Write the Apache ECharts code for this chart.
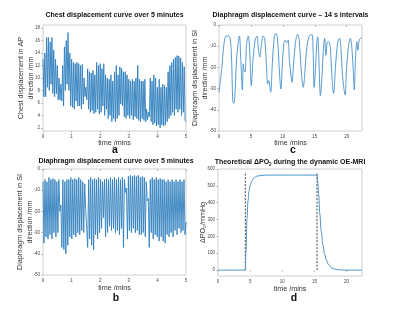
<!DOCTYPE html>
<html><head><meta charset="utf-8">
<script src="https://cdn.jsdelivr.net/npm/echarts@6/dist/echarts.min.js"></script>
<style>html,body{margin:0;padding:0;background:#fff}#c{width:400px;height:314px}</style>
</head><body><div id="c"></div>
<script>
// ---- data ----
// (a) chest displacement, alternating peak/trough per breath, 5 minutes
const chestDisp = [13,7, 14,7, 16.5,8.5, 16.5,8, 15.8,9, 16.5,7.5, 14.5,7, 13,7.5, 12,6.5, 10,6.5,
  9,6.3, 12,5.5, 15,8, 16,9, 17.3,8, 14,5.5, 13,5.3, 12.5,5, 12.3,6.3, 12.5,5.5,
  12.3,5.5, 12,5, 12.2,5.8, 10,7, 8.5,6.5, 11.5,5, 11,4.5, 10.8,4.8, 11.2,4.3, 10.5,4.5,
  12.5,5, 12,4.2, 12.3,4.5, 11.5,5.5, 12.3,4, 10.5,5, 10,3.5, 9.8,4, 10.5,3, 9.5,3.5,
  11,3, 12,3.5, 10.5,4, 11.8,5.8, 11.5,5.5, 11,3.8, 11,3.5, 10.5,4, 9.8,3.5, 9.5,4,
  9.8,3.3, 9.5,3.8, 10,3.5, 12,3.2, 9.8,3, 9.5,3.5, 9.5,3.2, 9.8,3, 5,3.3, 4.5,3.8,
  10,3, 9.5,2.5, 10.5,2.8, 10,2.3, 8.5,2.5, 9.8,2.0, 8.5,2.5, 9,2.3, 8.8,2.5, 8.5,3,
  11,3.5, 12,4, 12.5,4.5, 13,4, 13.3,5, 13.6,4.5, 13.5,5, 13.2,4, 12.5,4.5, 11.8,3.2, 3];
// (b) diaphragm displacement, alternating peak/trough per breath, 5 minutes
const diaphDisp = [-6,-35, -5,-32, -6,-33, -4,-31, -5,-33, -4.5,-30, -5,-32, -6,-30, -5,-20, -17,-37,
  -5,-38, -6,-40, -5,-36, -5,-32, -4,-33, -5,-31, -4.5,-32, -5,-30, -4,-31, -5,-29,
  -6,-30, -7,-19, -19,-37, -5,-33, -4,-36, -5,-38, -4.5,-31, -5,-33, -4,-30, -5,-28,
  -6,-23, -5,-32, -4.5,-30, -5,-27, -4,-29, -5,-28, -4,-30, -5,-29, -4,-31, -5,-28,
  -4,-37, -5,-11, -9,-33, -3.5,-29, -3,-30, -3.5,-28, -3,-30, -3.5,-29, -3,-31, -4,-31,
  -3.5,-30, -4,-32, -6,-15, -14,-37, -5,-30, -4,-33, -5,-31, -4,-32, -5,-34, -4.5,-32,
  -5,-34, -5,-35, -6,-31, -5,-32, -6,-30, -5,-32, -6,-29, -5,-31, -6,-28, -5,-30,
  -6,-29, -5,-31, -25];
// (c) diaphragm displacement, 14 s intervals
const cTime = [0,0.46,0.72,1.13,1.49,1.75,1.96,2.16,2.32,2.53,2.78,3.2,3.4,3.66,3.81,3.92,4.07,4.33,4.59,4.85,
  5.05,5.36,5.67,5.93,6.19,6.39,6.6,6.91,7.16,7.42,7.63,7.78,8.09,8.35,8.66,8.92,9.18,9.48,9.69,9.9,
  10.15,10.36,10.62,10.82,11.03,11.34,11.44,11.65,11.96,12.32,12.58,12.84,13.2,13.4,13.71,14.12,14.54,14.74,14.9,15.15,
  15.31,15.46,15.67,15.88,16.13,16.34,16.55,16.75,17.01,17.32,17.53,17.73,17.94,18.25,18.56,18.87,19.12,19.33,19.54,19.74,
  20.0,20.31,20.57,20.82,21.03,21.19,21.39,21.6,21.75,21.96,22.16,22.37];
const cVal = [-31.7,-19.8,-10.3,-5.2,-5.2,-6.3,-15.1,-35.7,-37,-31,-15.1,-5.2,-15.1,-30.6,-18.3,-21.4,-22.2,-8.7,-5.2,-15.1,
  -28.6,-15.1,-7.1,-5.2,-11.9,-15.1,-10.3,-5.2,-6.3,-18.3,-27.8,-26.2,-31.7,-18.3,-5.6,-4.0,-7.1,-23,-30.2,-19.8,
  -8.7,-7.1,-8.4,-7.1,-16.7,-25.4,-27,-19.8,-8.7,-4.4,-7.1,-19.8,-29.4,-24.6,-11.9,-5.2,-4.4,-11.9,-29.4,-18.3,
  -8.7,-5.6,-18.3,-33.3,-24.6,-11.9,-6.3,-14.3,-7.9,-8.4,-15.1,-26.2,-32.2,-19.8,-8.7,-6.3,-11.9,-23,-29.4,-33,
  -19.8,-9.5,-6.3,-11.1,-21.4,-30.6,-15.1,-7.9,-11.9,-7.1,-6.3,-5.9];
// (d) theoretical delta PO2
const dTime = [0,4.25,4.35,4.51,4.66,4.82,5.03,5.28,5.54,6.06,6.84,7.6,10,15.4,15.5,15.65,15.85,16.06,16.32,16.58,16.84,17.2,17.7,18.3,19,20,22.4];
const dVal  = [0,0,111,309,408,467,507,531,546,558,562,564,564,564,530,450,330,230,150,95,60,32,12,4,1,0,0];
const switchTimes = [4.25, 15.4];
const switchTop = 575;
// tick labels
const ticksA = [2,4,6,8,10,12,14,16,18];
const ticksB = [-50,-40,-30,-20,-10,0];
const ticks5 = [0,1,2,3,4,5];
const ticks22 = [0,5,10,15,20];
const ticksD = [0,100,200,300,400,500,600];

const toPairs = (vals, dur) => vals.map((v,i)=>[i*dur/(vals.length-1), v]);
const zip = (xs, ys) => xs.map((x,i)=>[x, ys[i]]);

const FONT = 'Liberation Sans';
const grids = [
  {left:43, top:25, width:143, height:106},
  {left:219, top:25, width:143, height:106},
  {left:43, top:169, width:143, height:106},
  {left:218, top:169, width:144, height:107}
].map(g=>Object.assign(g,{show:true, borderColor:'#cfcfcf', borderWidth:1, backgroundColor:'#fff'}));

function xAx(i, max, ticks, gap){
  return {type:'value', gridIndex:i, min:0, max:max,
    name:'time /mins', nameLocation:'middle', nameGap:gap, nameMoveOverlap:false,
    nameTextStyle:{fontFamily:FONT, fontSize:7.2, color:'#333'},
    axisLine:{show:false}, splitLine:{show:false},
    axisTick:{show:true, length:2, lineStyle:{color:'#999', width:0.6}, customValues:ticks},
    axisLabel:{fontFamily:FONT, fontSize:4.5, color:'#444', margin:3, customValues:ticks}};
}
function yAx(i, min, max, ticks, name, gap){
  return {type:'value', gridIndex:i, min:min, max:max,
    name:name, nameLocation:'middle', nameRotate:90, nameGap:gap, nameMoveOverlap:false,
    nameTextStyle:{fontFamily:FONT, fontSize:7.2, color:'#333', lineHeight:10, align:'center'},
    axisLine:{show:false}, splitLine:{show:false},
    axisTick:{show:true, length:2, lineStyle:{color:'#999', width:0.6}, customValues:ticks},
    axisLabel:{fontFamily:FONT, fontSize:4.5, color:'#444', margin:3, customValues:ticks}};
}

const titleStyle = {fontFamily:FONT, fontSize:7, fontWeight:'bold', color:'#111'};
const letterStyle = {fontFamily:FONT, fontSize:10.5, fontWeight:'bold', color:'#111'};

const option = {
  animation:false,
  backgroundColor:'#fff',
  title:[
    {text:'Chest displacement curve over 5 minutes', left:114.5, top:12, textAlign:'center', textStyle:titleStyle, padding:0},
    {text:'Diaphragm displacement curve \u2013 14 s intervals', left:290.5, top:12, textAlign:'center', textStyle:titleStyle, padding:0},
    {text:'Diaphragm displacement curve over 5 minutes', left:116, top:158, textAlign:'center', textStyle:titleStyle, padding:0},
    {text:'{t|Theoretical \u0394PO}{s|2}{t| during the dynamic OE-MRI}', left:290, top:158, textAlign:'center', padding:0,
      textStyle:{rich:{t:titleStyle, s:Object.assign({}, titleStyle, {fontSize:4.5, padding:[4,0,0,0]})}}},
    {text:'a', left:115, top:145, textAlign:'center', textStyle:letterStyle, padding:0},
    {text:'c', left:293, top:145, textAlign:'center', textStyle:letterStyle, padding:0},
    {text:'b', left:116, top:293, textAlign:'center', textStyle:letterStyle, padding:0},
    {text:'d', left:294, top:293, textAlign:'center', textStyle:letterStyle, padding:0}
  ],
  grid: grids,
  xAxis:[ xAx(0,5,ticks5,9), xAx(1,22.4,ticks22,9), xAx(2,5,ticks5,10), xAx(3,22.4,ticks22,10) ],
  yAxis:[
    yAx(0,1.5,18.5,ticksA,'Chest displacement in AP\ndirection /mm',7),
    yAx(1,-50,0,ticksB,'Diaphragm displacement in SI\ndirection /mm',9),
    yAx(2,-50,0,ticksB,'Diaphragm displacement in SI\ndirection /mm',7.5),
    yAx(3,-35,600,ticksD,'\u0394PO\u2082/mmHg',9.5)
  ],
  series:[
    {type:'line', xAxisIndex:0, yAxisIndex:0, data:toPairs(chestDisp,5), showSymbol:false,
      lineStyle:{color:'#2f7fbd', width:0.9}},
    {type:'line', xAxisIndex:1, yAxisIndex:1, data:zip(cTime,cVal), showSymbol:false, smooth:0.35,
      lineStyle:{color:'#4590ca', width:0.9}},
    {type:'line', xAxisIndex:2, yAxisIndex:2, data:toPairs(diaphDisp,5), showSymbol:false,
      lineStyle:{color:'#2f7fbd', width:0.9}},
    {type:'line', xAxisIndex:3, yAxisIndex:3, data:zip(dTime,dVal), showSymbol:false, smooth:0.4, smoothMonotone:'x',
      lineStyle:{color:'#4a94cc', width:1}, z:3},
    ...switchTimes.map(t=>({type:'line', xAxisIndex:3, yAxisIndex:3, data:[[t,0],[t,switchTop]], showSymbol:false,
      lineStyle:{color:'#444', width:1, type:[2,1.5]}, z:2}))
  ]
};
echarts.init(document.getElementById('c'), null, {renderer:'canvas'}).setOption(option);
</script></body></html>
